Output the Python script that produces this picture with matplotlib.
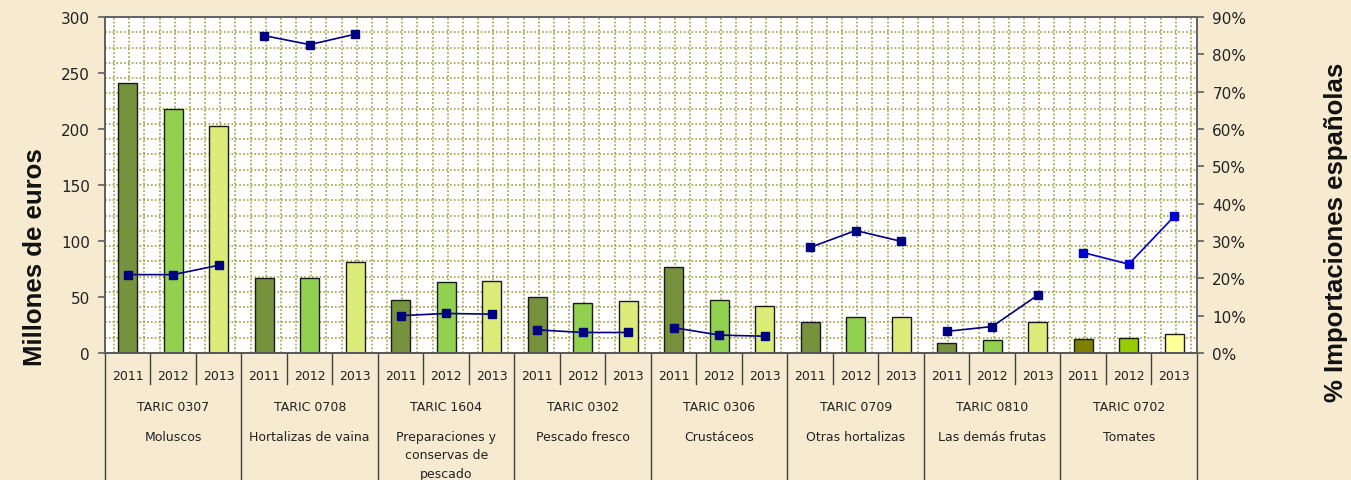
import numpy as np
import matplotlib
matplotlib.use("Agg")
import matplotlib.pyplot as plt
import matplotlib.transforms as mtransforms
from matplotlib.ticker import FuncFormatter

# Importaciones por partida TARIC, 2011-2013
years = ["2011", "2012", "2013"]
taric = ["TARIC 0307", "TARIC 0708", "TARIC 1604", "TARIC 0302",
         "TARIC 0306", "TARIC 0709", "TARIC 0810", "TARIC 0702"]
names = ["Moluscos", "Hortalizas de vaina", "Preparaciones y\nconservas de\npescado",
         "Pescado fresco", "Crustáceos", "Otras hortalizas", "Las demás frutas", "Tomates"]

# millones de euros, columnas 2011 / 2012 / 2013
val_2011 = [241, 67, 47, 50, 77, 27.4, 9, 12.2]
val_2012 = [218, 67, 63, 44.4, 47, 32, 11.3, 13]
val_2013 = [203, 81, 64, 46, 42, 32.5, 27.4, 16.7]

# % importaciones españolas
pct_2011 = [21.0, 85.0, 10.0, 6.2, 6.8, 28.3, 5.8, 26.9]
pct_2012 = [21.0, 82.6, 10.6, 5.5, 4.8, 32.8, 7.1, 23.8]
pct_2013 = [23.5, 85.4, 10.4, 5.5, 4.5, 29.9, 15.5, 36.6]

bar_cols = ["#76923c", "#92d050", "#dcec78"]
tomato_cols = ["#808000", "#99cc00", "#ffff99"]
bg = "#f6ead0"

fig = plt.figure(figsize=(13.51, 4.81), dpi=100, facecolor=bg)
ax = fig.add_axes([0.0777, 0.264, 0.8083, 0.6986])
ax.set_facecolor("white")
ax2 = ax.twinx()

n = len(taric)
vals = np.array([val_2011, val_2012, val_2013])
pcts = np.array([pct_2011, pct_2012, pct_2013])

# dotted grid
gcol = "#a0a040"
for k in range(1, 22):
    ax.axhline(300 * k / 22, color=gcol, lw=1.2, ls=(0, (1, 1.3)), zorder=0)
for xg in np.arange(-0.3, 23.5, 1 / 3):
    ax.axvline(xg, color=gcol, lw=1.2, ls=(0, (1, 1.3)), zorder=0)

for g in range(n):
    cols = tomato_cols if g == n - 1 else bar_cols
    xs = 3 * g + np.arange(3)
    ax.bar(xs, vals[:, g], width=0.42, color=cols, edgecolor="#1a1a1a",
           linewidth=1.0, zorder=2)
    lc = "#0000c8" if g == n - 1 else "#000080"
    ax2.plot(xs, pcts[:, g] / 100, color=lc, lw=1.2, marker="s",
             markersize=6, markerfacecolor=lc, markeredgecolor=lc, zorder=3)

ax.set_xlim(-0.5, 3 * n - 0.5)
ax.set_ylim(0, 300)
ax.set_yticks(range(0, 301, 50))
ax2.set_ylim(0, 0.9)
ax2.set_yticks(np.arange(0, 0.91, 0.1))
ax2.yaxis.set_major_formatter(FuncFormatter(lambda v, p: f"{v * 100:.0f}%"))
ax.set_xticks([])

for a in (ax, ax2):
    for s in a.spines.values():
        s.set_color("#606060")
        s.set_linewidth(1.2)
    a.tick_params(axis="y", length=5, width=1.2, color="#606060",
                  labelsize=11, labelcolor="#222222", pad=6)
ax.spines["bottom"].set_color("#222222")
ax.set_zorder(ax2.get_zorder() - 1)
ax2.patch.set_visible(False)

# category axis below
tr = mtransforms.blended_transform_factory(ax.transData, ax.transAxes)
lkw = dict(transform=tr, color="#404040", lw=1.0, clip_on=False)
for g in range(n):
    for j in range(3):
        x = 3 * g + j
        ax.text(x, -0.066, years[j], transform=tr, ha="center", va="center",
                fontsize=9, color="#222222")
        if j > 0:
            ax.plot([x - 0.5, x - 0.5], [0, -0.093], **lkw)
    ax.plot([3 * g - 0.5, 3 * g - 0.5], [0, -0.38], **lkw)
    ax.text(3 * g + 1, -0.158, taric[g], transform=tr, ha="center", va="center",
            fontsize=9, color="#222222")
    ax.text(3 * g + 1, -0.228, names[g], transform=tr, ha="center", va="top",
            fontsize=9, color="#222222", linespacing=1.55)
ax.plot([3 * n - 0.5, 3 * n - 0.5], [0, -0.38], **lkw)

fig.text(0.026, 0.466, "Millones de euros", rotation=90, ha="center", va="center",
         fontsize=18.5, fontweight="bold", family="Liberation Sans", color="#111111")
fig.text(0.989, 0.516, "% Importaciones españolas", rotation=90, ha="center",
         va="center", fontsize=18.5, fontweight="bold", family="Liberation Sans",
         color="#111111")

fig.savefig("out.png", dpi=100, facecolor=bg)
